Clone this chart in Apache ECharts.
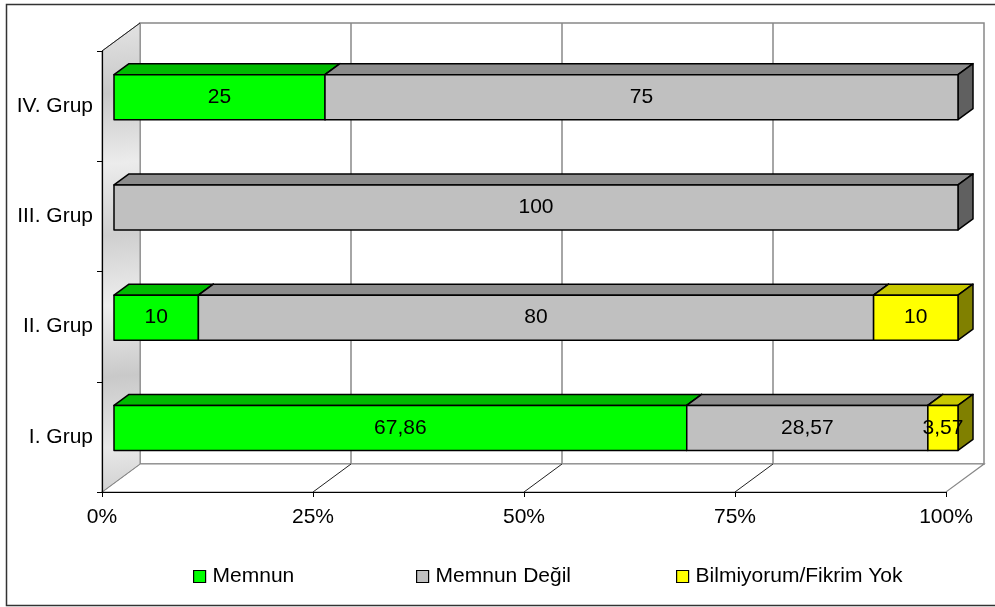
<!DOCTYPE html>
<html>
<head>
<meta charset="utf-8">
<script src="https://cdn.jsdelivr.net/npm/echarts@6/dist/echarts.min.js"></script>
<style>
  html, body { margin: 0; padding: 0; background: #fff; }
  #chart { width: 995px; height: 607px; }
</style>
</head>
<body>
<div id="chart"></div>
<script>
// data
var categories = ['I. Grup', 'II. Grup', 'III. Grup', 'IV. Grup'];
var memnun = [67.86, 10, 0, 25];
var memnunDegil = [28.57, 80, 100, 75];
var bilmiyorum = [3.57, 10, 0, 0];
var xTicks = [0, 25, 50, 75, 100];

var seriesNames = ['Memnun', 'Memnun Değil', 'Bilmiyorum/Fikrim Yok'];
var seriesValues = [memnun, memnunDegil, bilmiyorum];
// front, top, side
var palette = [
	['#00FF00', '#00BB00', '#008800'],
	['#C0C0C0', '#8C8C8C', '#606060'],
	['#FFFF00', '#C8C800', '#808000']
];

var FONT = '"Liberation Sans", Arial, sans-serif';
// depth of the box (front floor -> back wall)
var DX = 38, DY = -28;
// bar front face offset and bar depth
var BX = 12, BY = -9, BDX = 15, BDY = -11, BH = 45;

function fmt(v) {
	return String(v).replace('.', ',');
}

var myChart = echarts.init(document.getElementById('chart'));

// walls and floor
function renderWalls(params, api) {
	var cs = params.coordSys;
	var x0 = cs.x, y0 = cs.y, x1 = cs.x + cs.width, y1 = cs.y + cs.height;
	var kids = [];
	// back wall
	kids.push({
		type: 'polygon',
		shape: { points: [[x0 + DX, y0 + DY], [x1 + DX, y0 + DY], [x1 + DX, y1 + DY], [x0 + DX, y1 + DY]] },
		style: { fill: '#fff', stroke: '#888', lineWidth: 1.5 }
	});
	// floor
	kids.push({
		type: 'polygon',
		shape: { points: [[x0, y1], [x0 + DX, y1 + DY], [x1 + DX, y1 + DY], [x1, y1]] },
		style: { fill: '#fff', stroke: '#888', lineWidth: 1.2 }
	});
	xTicks.forEach(function (t) {
		var px = api.coord([t, 0])[0];
		if (t > 0 && t < 100) {
			kids.push({
				type: 'line',
				shape: { x1: px + DX, y1: y0 + DY, x2: px + DX, y2: y1 + DY },
				style: { stroke: '#888', lineWidth: 1.5 }
			});
			kids.push({
				type: 'line',
				shape: { x1: px, y1: y1, x2: px + DX, y2: y1 + DY },
				style: { stroke: '#222', lineWidth: 1 }
			});
		}
	});
	// left wall
	kids.push({
		type: 'polygon',
		shape: { points: [[x0, y0], [x0 + DX, y0 + DY], [x0 + DX, y1 + DY], [x0, y1]] },
		style: {
			fill: new echarts.graphic.LinearGradient(0, 0, 1, 1, [
				{ offset: 0, color: '#e4e4e4' },
				{ offset: 0.15, color: '#c8c8c8' },
				{ offset: 0.3, color: '#ececec' },
				{ offset: 0.45, color: '#cfcfcf' },
				{ offset: 0.6, color: '#eeeeee' },
				{ offset: 0.75, color: '#c9c9c9' },
				{ offset: 0.9, color: '#e8e8e8' },
				{ offset: 1, color: '#d0d0d0' }
			]),
			stroke: '#888', lineWidth: 1
		}
	});
	kids.push({
		type: 'line',
		shape: { x1: x0, y1: y0, x2: x0 + DX, y2: y0 + DY },
		style: { stroke: '#222', lineWidth: 1 }
	});
	return { type: 'group', children: kids };
}

// one stacked 3D segment
function makeRender(idx) {
	return function (params, api) {
		var start = api.value(0), end = api.value(1), cat = api.value(2), v = api.value(3);
		if (!(end > start)) return null;
		var p0 = api.coord([start, cat]);
		var p1 = api.coord([end, cat]);
		var xa = p0[0] + BX, xb = p1[0] + BX;
		var yc = p0[1] + BY;
		var top = yc - BH / 2, bot = yc + BH / 2;
		var c = palette[idx];
		var line = { stroke: '#000', lineWidth: 1.5, lineJoin: 'round' };
		return {
			type: 'group',
			children: [
				{
					type: 'polygon',
					shape: { points: [[xa, top], [xa + BDX, top + BDY], [xb + BDX, top + BDY], [xb, top]] },
					style: Object.assign({ fill: c[1] }, line)
				},
				{
					type: 'polygon',
					shape: { points: [[xb, top], [xb + BDX, top + BDY], [xb + BDX, bot + BDY], [xb, bot]] },
					style: Object.assign({ fill: c[2] }, line)
				},
				{
					type: 'rect',
					shape: { x: xa, y: top, width: xb - xa, height: BH },
					style: Object.assign({ fill: c[0] }, line)
				},
				{
					type: 'text',
					x: (xa + xb) / 2, y: yc,
					style: {
						text: fmt(v), fill: '#000', font: '21px ' + FONT,
						align: 'center', verticalAlign: 'middle'
					}
				}
			]
		};
	};
}

var series = [{
	name: 'walls',
	type: 'custom',
	silent: true,
	z: 1,
	renderItem: renderWalls,
	data: [[0, 0]]
}];

var cum = categories.map(function () { return 0; });
seriesValues.forEach(function (vals, i) {
	var data = vals.map(function (v, c) {
		var s = cum[c];
		cum[c] += v;
		return [s, s + v, c, v];
	});
	series.push({
		name: seriesNames[i],
		type: 'custom',
		z: 2,
		itemStyle: { color: palette[i][0] },
		renderItem: makeRender(i),
		encode: { x: [0, 1], y: 2 },
		data: data
	});
});

var legendLefts = [193, 416, 676];
var legends = seriesNames.map(function (n, i) {
	return {
		data: [n],
		left: legendLefts[i],
		top: 566,
		icon: 'rect',
		itemWidth: 12,
		itemHeight: 12,
		itemGap: 0,
		padding: 0,
		selectedMode: false,
		itemStyle: { borderColor: '#000', borderWidth: 1.2 },
		textStyle: { fontSize: 21, fontFamily: FONT, color: '#000', padding: [0, 0, 0, 2] }
	};
});

var option = {
	animation: false,
	backgroundColor: '#fff',
	graphic: [{
		type: 'rect',
		shape: { x: 6.5, y: 4.5, width: 1000, height: 601 },
		style: { fill: 'none', stroke: '#333', lineWidth: 1.5 },
		z: 100
	}],
	legend: legends,
	grid: { left: 102, right: 49, top: 51, bottom: 115 },
	xAxis: {
		type: 'value',
		min: 0, max: 100, interval: 25,
		z: 5,
		axisLine: { show: true, lineStyle: { color: '#000', width: 1.2 } },
		axisTick: { show: true, length: 5, lineStyle: { color: '#000' } },
		splitLine: { show: false },
		axisLabel: {
			formatter: '{value}%', fontSize: 21, fontFamily: FONT, color: '#000', margin: 15
		}
	},
	yAxis: {
		type: 'category',
		data: categories,
		z: 5,
		axisLine: { show: true, lineStyle: { color: '#000', width: 1.2 } },
		axisTick: { show: true, length: 5, lineStyle: { color: '#000' } },
		splitLine: { show: false },
		axisLabel: { fontSize: 21, fontFamily: FONT, color: '#000', margin: 9 }
	},
	series: series
};

myChart.setOption(option);
</script>
</body>
</html>
